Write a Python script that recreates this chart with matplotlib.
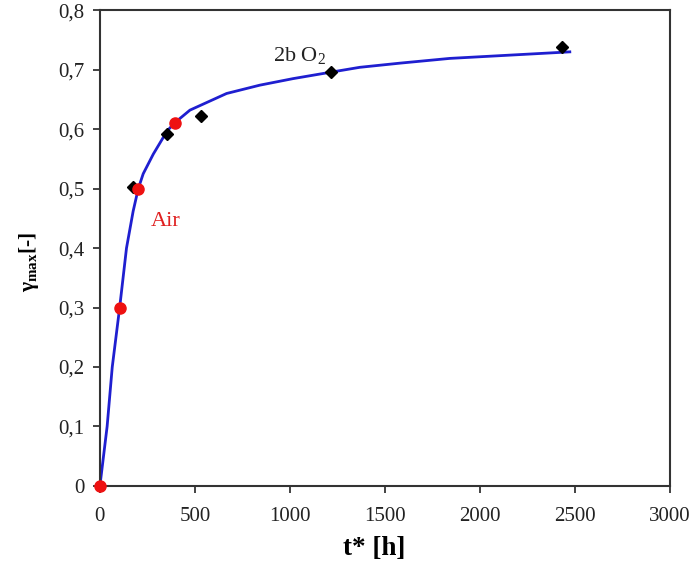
import matplotlib.pyplot as plt
from matplotlib.ticker import FuncFormatter

plt.rcParams["font.family"] = "Liberation Serif"
plt.rcParams["mathtext.fontset"] = "custom"
plt.rcParams["mathtext.rm"] = "Liberation Serif"
plt.rcParams["mathtext.it"] = "Liberation Serif:italic"
plt.rcParams["mathtext.bf"] = "Liberation Serif:bold"

# ---- data ----
# fitted curve
curve_t = [0, 38, 65, 104, 140, 175, 202, 228, 281, 354, 395, 474, 667, 842,
           1017, 1219, 1368, 1579, 1842, 2474]
curve_y = [0, 0.10, 0.20, 0.30, 0.40, 0.462, 0.500, 0.525, 0.558, 0.597,
           0.611, 0.632, 0.660, 0.674, 0.685, 0.696, 0.704, 0.711, 0.719, 0.730]

# air measurements (red)
air_t = [0, 104, 202, 395]
air_y = [0, 0.30, 0.500, 0.611]

# 2b O2 measurements (black)
o2_t = [175, 354, 530, 1219, 2435]
o2_y = [0.502, 0.592, 0.622, 0.696, 0.739]

x_ticks = [0, 500, 1000, 1500, 2000, 2500, 3000]
y_ticks = [0, 0.1, 0.2, 0.3, 0.4, 0.5, 0.6, 0.7, 0.8]

fig = plt.figure(figsize=(6.89, 5.69), dpi=100)
ax = fig.add_axes([0.145, 0.146, 0.827, 0.836])

ax.plot(curve_t, curve_y, color="#1f1fd0", lw=2, zorder=2,
        solid_joinstyle="round")
ax.plot(o2_t, o2_y, "D", color="black", ms=6.5, zorder=3, clip_on=False)
ax.plot(air_t, air_y, "o", color="#ee1111", ms=8, zorder=4, clip_on=False)

ax.text(1050, 0.707, "2b O$_\\mathregular{2}$", fontsize=16, ha="center",
        va="bottom", color="#222222")
ax.text(345, 0.445, "Air", fontsize=16, ha="center", va="center",
        color="#e02020")

ax.set_xlim(0, 3000)
ax.set_ylim(0, 0.8)
ax.set_xticks(x_ticks)
ax.set_yticks(y_ticks)

def comma(v, pos):
    s = "%g" % v
    return s.replace(".", ",")

ax.xaxis.set_major_formatter(FuncFormatter(comma))
ax.yaxis.set_major_formatter(FuncFormatter(comma))

ax.tick_params(direction="out", length=5, width=1.2, labelsize=15,
               colors="#222222")
ax.tick_params(axis="x", pad=10)
ax.tick_params(axis="y", pad=6)

for sp in ax.spines.values():
    sp.set_linewidth(1.5)
    sp.set_color("#333333")

ax.set_xlabel("t* [h]", fontsize=19.5, fontweight="bold", va="top")
ax.xaxis.set_label_coords(0.482, -0.105)
ax.set_ylabel("γ$_{\\mathbf{max}}$[-]", fontsize=15.5, fontweight="bold")
ax.yaxis.set_label_coords(-0.104, 0.47)

fig.savefig("out.png", dpi=100)
